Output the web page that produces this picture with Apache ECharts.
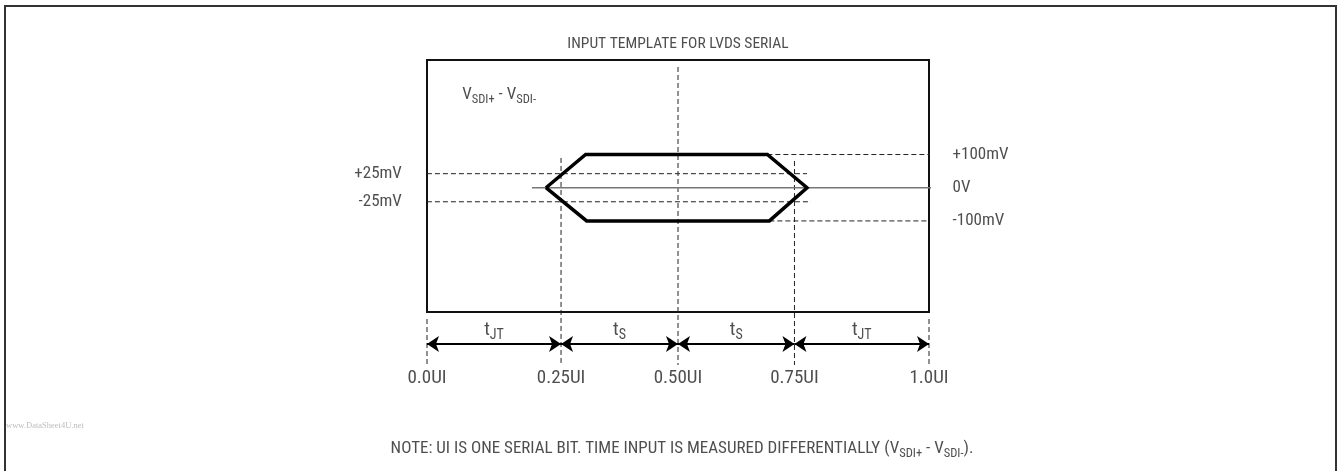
<!DOCTYPE html>
<html><head><meta charset="utf-8">
<script src="https://cdn.jsdelivr.net/npm/echarts@6/dist/echarts.min.js"></script>
<style>html,body{margin:0;padding:0;background:#fff}#c{width:1341px;height:471px}</style>
</head><body><div id="c"></div>
<script>
// ---- data (diagram units: x in template fraction, y in template level) ----
const chartTitle = 'INPUT TEMPLATE FOR LVDS SERIAL';
const uiTickPos = [0, 0.267, 0.5, 0.732, 1];
const uiTickLabels = ['0.0UI', '0.25UI', '0.50UI', '0.75UI', '1.0UI'];
const intervalSymbols = ['t', 't', 't', 't'];
const intervalSubs = ['JT', 'S', 'S', 'JT'];
const leftLevelLabels = ['+25mV', '-25mV'];
const leftLevelPos = [0.11, -0.11];
const rightLevelLabels = ['+100mV', '0V', '-100mV'];
const rightLevelPos = [0.26, 0, -0.26];
const eyeX = [0.237, 0.316, 0.678, 0.757, 0.682, 0.318, 0.237];
const eyeY = [0, 0.26, 0.26, 0, -0.26, -0.26, 0];
const signalMain = ['V', 'V'];
const signalSubs = ['SDI+', 'SDI-'];
const noteText = 'NOTE: UI IS ONE SERIAL BIT. TIME INPUT IS MEASURED DIFFERENTIALLY (';
const watermark = 'www.DataSheet4U.net';

// ---- layout / style ----
const FONT = "'Liberation Sans Narrow', 'Arial Narrow', 'Roboto Condensed', sans-serif";
const TXT = '#222';
const dash = { color: '#222', width: 1, type: [5, 3] };
const L = {
  guideTop: [-1.028, 0.233, 0.945, 0.209, -1.028],
  guideBottom: -1.388,
  arrowY: -1.224,
  subLabelY: -1.114,
  uiLabelY: -1.49,
  leftLineStart: -0.032,
  leftLineEnd: [0.757, 0.765],
  rightLineEnd: 1.036,
  zeroStart: 0.209, zeroEnd: 1.02,
  leftLabelX: -0.05, rightLabelX: 1.047,
  titleY: 1.125, noteX: 0.508, noteY: -2.046,
  sigX: 0.07, sigY: 0.726
};

const series = [];
function seg(points, lineStyle, z) {
  series.push({ type: 'line', data: points, showSymbol: false, symbol: 'none', clip: false,
    silent: true, animation: false, lineStyle: lineStyle, z: z || 2 });
}
function labels(items, labelOpt, z) {
  series.push({ type: 'scatter', symbolSize: 0, clip: false, silent: true, animation: false, z: z || 5,
    data: items.map(it => ({ value: it.v, label: Object.assign({ formatter: it.t }, it.extra || {}) })),
    label: Object.assign({ show: true, color: TXT, fontFamily: FONT }, labelOpt) });
}

// vertical dashed guides
uiTickPos.forEach((x, i) => seg([[x, L.guideTop[i]], [x, L.guideBottom]], dash, 1));
// +-25 mV dashed lines
leftLevelPos.forEach((y, i) => seg([[L.leftLineStart, y], [L.leftLineEnd[i], y]], dash, 1));
// +-100 mV dashed lines (start at eye corners)
seg([[eyeX[2], rightLevelPos[0]], [L.rightLineEnd, rightLevelPos[0]]], dash, 1);
seg([[eyeX[4], rightLevelPos[2]], [L.rightLineEnd, rightLevelPos[2]]], dash, 1);
// 0V line
seg([[L.zeroStart, 0], [L.zeroEnd, 0]], { color: '#777', width: 1.5 }, 2);
// eye template
seg(eyeX.map((x, i) => [x, eyeY[i]]), { color: '#000', width: 3.5, join: 'miter' }, 4);

// arrows
series.push({ type: 'lines', coordinateSystem: 'cartesian2d', clip: false, silent: true, animation: false, z: 3,
  symbol: ['arrow', 'arrow'], symbolSize: 12,
  lineStyle: { color: '#000', width: 2, opacity: 1 },
  data: intervalSymbols.map((s, i) => ({ coords: [[uiTickPos[i], L.arrowY], [uiTickPos[i + 1], L.arrowY]] })) });

// interval labels t_JT / t_S
const subRich = {
  m: { fontSize: 19, lineHeight: 24, fontFamily: FONT, color: TXT },
  s: { fontSize: 14, lineHeight: 24, verticalAlign: 'bottom', fontFamily: FONT, color: TXT }
};
labels(intervalSymbols.map((s, i) => ({ v: [(uiTickPos[i] + uiTickPos[i + 1]) / 2, L.subLabelY],
  t: '{m|' + s + '}{s|' + intervalSubs[i] + '}' })), { position: 'inside', rich: subRich });
// UI tick labels
labels(uiTickLabels.map((t, i) => ({ v: [uiTickPos[i], L.uiLabelY], t: t })), { position: 'inside', fontSize: 19 });
// level labels
labels(leftLevelLabels.map((t, i) => ({ v: [L.leftLabelX, leftLevelPos[i]], t: t })), { position: 'left', distance: 0, fontSize: 17 });
labels(rightLevelLabels.map((t, i) => ({ v: [L.rightLabelX, rightLevelPos[i]], t: t })), { position: 'right', distance: 0, fontSize: 17 });
// signal name
const sigRich = {
  m: { fontSize: 17, lineHeight: 22, fontFamily: FONT, color: TXT },
  s: { fontSize: 12.5, lineHeight: 22, verticalAlign: 'bottom', fontFamily: FONT, color: TXT }
};
labels([{ v: [L.sigX, L.sigY], t: '{m|' + signalMain[0] + '}{s|' + signalSubs[0] + '}{m| - ' + signalMain[1] + '}{s|' + signalSubs[1] + '}' }],
  { position: 'right', distance: 0, rich: sigRich });
// title
labels([{ v: [0.5, L.titleY], t: chartTitle }], { position: 'inside', fontSize: 15.5 });
// note
labels([{ v: [L.noteX, L.noteY], t: '{m|' + noteText + signalMain[0] + '}{s|' + signalSubs[0] + '}{m| - ' + signalMain[1] + '}{s|' + signalSubs[1] + '}{m|).}' }],
  { position: 'inside', rich: sigRich });

const chart = echarts.init(document.getElementById('c'), null, { renderer: 'canvas' });
chart.setOption({
  animation: false,
  backgroundColor: '#fff',
  title: { text: watermark, left: 1, top: 416, textStyle: { fontSize: 8.5, fontWeight: 'normal', color: '#bdbdbd', fontFamily: "'Liberation Serif', serif" } },
  grid: { left: 427, top: 60, width: 502, height: 252, show: true, borderColor: '#111', borderWidth: 2, backgroundColor: 'transparent' },
  xAxis: { type: 'value', min: 0, max: 1, show: false },
  yAxis: { type: 'value', min: -0.973, max: 1, show: false },
  graphic: [{ type: 'rect', shape: { x: 5, y: 6, width: 1331, height: 520 }, style: { fill: 'none', stroke: '#333', lineWidth: 2 }, silent: true, z: 0 }],
  series: series
});
</script></body></html>
